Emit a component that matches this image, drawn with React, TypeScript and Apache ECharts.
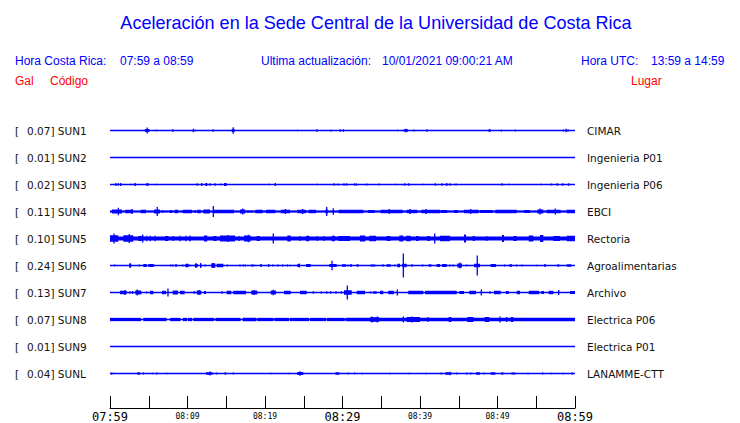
import React, { useEffect, useRef } from "react";
import * as echarts from "echarts";

// ---------- DATA ----------
const stations = ["SUN1", "SUN2", "SUN3", "SUN4", "SUN5", "SUN6", "SUN7", "SUN8", "SUN9", "SUNL"];
const places = ["CIMAR", "Ingenieria P01", "Ingenieria P06", "EBCI", "Rectoria", "Agroalimentarias", "Archivo", "Electrica P06", "Electrica P01", "LANAMME-CTT"];
const peakGal = ["0.07", "0.01", "0.02", "0.11", "0.10", "0.24", "0.13", "0.07", "0.01", "0.04"];
const timeLabels = ["07:59", "08:09", "08:19", "08:29", "08:39", "08:49", "08:59"];
const DURATION_MIN = 60;

// Bursts per station: [startMinute, endMinute, halfAmplitudeGal]
const sun1 = [[4.5,5.1,0.03],[4.8,4.8,0.06],[6.0,6.0,0.015],[8.1,8.1,0.025],[10.75,10.75,0.035],[10.75,11.1,0.015],[13.3,13.3,0.025],[15.7,16.1,0.03],[15.9,15.9,0.065],[24.2,24.2,0.015],[26.7,26.7,0.025],[28.5,28.5,0.02],[29.7,29.7,0.025],[30.1,30.1,0.025],[37.1,37.1,0.015],[37.9,38.45,0.025],[38.2,38.2,0.035],[39.2,39.2,0.02],[40.9,40.9,0.025],[48.85,49.1,0.03],[50.5,50.5,0.02],[52.3,52.3,0.02],[58.5,58.5,0.02],[58.85,58.85,0.035],[59.1,59.1,0.02]];
const sun2: number[][] = [];
const sun3 = [[0.77,0.77,0.03],[1.07,1.07,0.025],[1.38,1.38,0.03],[2.67,2.67,0.015],[3.1,3.35,0.025],[4.65,5.0,0.025],[6.03,6.03,0.015],[11.26,11.26,0.025],[11.83,11.83,0.03],[12.3,12.55,0.03],[12.9,12.9,0.025],[13.55,13.55,0.025],[14.28,14.28,0.02],[14.71,15.06,0.03],[20.55,20.55,0.015],[21.33,21.33,0.03],[26.75,26.75,0.015],[28.9,28.9,0.025],[29.42,29.42,0.02],[30.19,30.19,0.025],[30.54,30.54,0.025],[31.57,31.57,0.025],[31.83,31.83,0.02],[33.12,33.12,0.02],[34.75,34.75,0.02],[36.81,36.81,0.015],[38.03,38.03,0.025],[38.54,38.54,0.025],[40.35,40.35,0.015],[41.9,42.06,0.025],[42.84,42.84,0.025],[43.45,43.45,0.03],[43.87,43.87,0.025],[44.65,44.65,0.02],[50.58,50.58,0.025],[51.52,51.52,0.015],[55.65,55.65,0.015],[56.94,56.94,0.02],[57.72,57.72,0.025],[58.41,58.41,0.025],[59.19,59.19,0.025]];
const sun4 = [[0,60,0.018],[0.26,1.55,0.04],[1.07,1.07,0.075],[1.97,2.93,0.035],[2.85,2.85,0.05],[3.96,4.65,0.035],[5.68,6.45,0.04],[6.1,6.1,0.09],[6.8,6.8,0.03],[7.74,8.0,0.03],[8.35,8.77,0.035],[9.38,10.58,0.035],[11.0,11.0,0.03],[11.26,11.7,0.035],[12.04,12.9,0.04],[13.33,13.33,0.11],[13.33,16.0,0.035],[16.77,17.46,0.04],[17.12,17.12,0.06],[17.81,17.81,0.03],[18.23,18.23,0.025],[18.75,19.7,0.035],[20.13,21.33,0.035],[22.03,23.23,0.035],[22.62,22.62,0.05],[24.17,25.29,0.035],[24.86,24.86,0.05],[25.64,26.58,0.035],[27.8,28.1,0.04],[27.96,27.96,0.09],[28.81,28.81,0.065],[29.51,32.68,0.035],[33.29,34.15,0.03],[34.93,37.77,0.035],[36.04,36.04,0.05],[38.28,39.65,0.035],[38.71,38.71,0.05],[40.17,42.58,0.035],[40.77,40.77,0.05],[42.67,43.52,0.03],[44.39,44.9,0.03],[45.68,47.57,0.035],[46.54,46.54,0.05],[47.74,49.38,0.03],[49.72,52.48,0.035],[53.42,54.19,0.03],[55.14,55.91,0.04],[55.48,55.48,0.06],[56.35,58.15,0.035],[57.46,57.46,0.06],[58.93,60,0.035]];
const sun5 = [[0,60,0.04],[0,1.07,0.065],[0.52,0.52,0.1],[1.72,3.0,0.065],[2.49,2.49,0.09],[3.65,4.3,0.05],[4.22,4.22,0.08],[4.74,4.74,0.055],[5.2,5.2,0.055],[5.81,5.81,0.055],[7.1,7.52,0.05],[8.17,8.17,0.05],[9.03,9.03,0.055],[9.81,9.81,0.055],[10.32,10.32,0.06],[12.13,12.55,0.06],[13.33,13.77,0.05],[14.19,16.13,0.06],[15.2,15.2,0.07],[16.68,16.68,0.05],[17.29,18.15,0.06],[17.85,17.85,0.075],[18.93,19.35,0.05],[21.07,21.07,0.1],[22.88,23.32,0.06],[24.52,24.52,0.05],[25.29,25.72,0.055],[26.75,26.75,0.05],[27.61,27.61,0.05],[28.61,29.03,0.055],[29.46,30.97,0.05],[32.26,32.94,0.06],[33.46,34.32,0.055],[35.7,36.22,0.05],[37.33,37.85,0.06],[38.19,38.8,0.055],[39.48,39.83,0.05],[40.94,41.29,0.05],[41.9,41.9,0.1],[42.58,43.87,0.055],[45.68,45.94,0.08],[46.8,47.06,0.05],[48.61,48.61,0.05],[50.58,50.84,0.07],[52.04,52.48,0.05],[54.03,54.62,0.06],[55.48,55.91,0.07],[57.2,58.06,0.05],[58.93,60,0.055]];
const sun6 = [[0.6,0.6,0.02],[2.49,2.75,0.03],[2.6,2.6,0.05],[3.78,3.78,0.02],[4.3,4.74,0.03],[4.94,5.59,0.03],[5.68,5.68,0.02],[7.83,7.83,0.02],[8.09,8.09,0.02],[8.43,8.61,0.03],[9.38,9.38,0.02],[9.72,10.15,0.035],[10.32,10.32,0.02],[10.93,11.35,0.03],[11.1,11.1,0.05],[11.61,11.78,0.03],[11.7,11.7,0.05],[12.3,12.3,0.02],[13.07,13.59,0.045],[13.3,13.3,0.05],[13.77,14.62,0.035],[15.14,15.14,0.02],[16.77,16.77,0.02],[17.2,17.2,0.02],[17.46,17.46,0.02],[18.32,18.32,0.025],[18.58,18.58,0.02],[19.35,19.61,0.025],[20.48,20.48,0.03],[20.9,21.07,0.02],[21.68,21.68,0.02],[22.28,22.28,0.02],[22.88,22.88,0.02],[23.23,23.23,0.015],[24.17,24.52,0.03],[24.43,24.43,0.04],[25.29,25.9,0.03],[28.3,29.25,0.03],[28.65,28.65,0.095],[29.94,30.45,0.025],[30.71,30.71,0.02],[30.97,31.23,0.025],[31.83,32.09,0.025],[33.64,34.23,0.02],[35.1,35.35,0.02],[35.7,36.22,0.025],[36.74,36.74,0.02],[37.07,37.42,0.035],[37.68,38.28,0.035],[37.85,37.85,0.24],[38.88,39.06,0.025],[40.35,40.35,0.02],[41.12,41.46,0.025],[42.15,42.58,0.03],[42.84,43.45,0.03],[43.87,43.87,0.02],[44.3,44.3,0.02],[44.81,45.42,0.04],[45.16,45.16,0.06],[46.03,46.03,0.02],[46.97,47.74,0.035],[47.39,47.39,0.2],[49.12,49.81,0.03],[50.93,50.93,0.02],[51.52,51.87,0.025],[52.48,52.48,0.02],[53.16,53.16,0.02],[55.06,55.06,0.015],[56.0,56.26,0.025],[57.72,57.97,0.025],[58.93,59.52,0.025]];
const sun7 = [[1.29,2.15,0.035],[1.94,1.94,0.05],[2.58,2.58,0.025],[2.84,3.0,0.03],[3.26,4.04,0.04],[3.52,3.52,0.06],[4.74,4.74,0.02],[5.16,5.59,0.035],[6.71,7.23,0.035],[7.48,7.48,0.08],[8.09,8.77,0.04],[9.03,9.64,0.035],[10.75,11.0,0.025],[11.19,11.78,0.04],[11.5,11.5,0.05],[12.13,12.39,0.03],[14.45,14.45,0.025],[15.06,15.65,0.035],[15.91,17.55,0.035],[18.23,19.01,0.04],[18.58,18.58,0.05],[20.74,21.42,0.04],[21.07,21.07,0.055],[22.45,23.32,0.035],[24.52,25.38,0.035],[26.23,26.23,0.025],[27.26,27.26,0.02],[27.96,27.96,0.025],[28.48,28.48,0.025],[29.16,29.16,0.025],[29.85,29.85,0.025],[30.19,31.19,0.045],[30.62,30.62,0.14],[31.83,32.9,0.035],[33.64,33.64,0.02],[33.97,34.41,0.025],[34.84,35.26,0.035],[35.91,36.65,0.035],[37.07,37.07,0.06],[38.49,40.43,0.035],[40.65,44.74,0.035],[45.07,45.68,0.03],[46.36,47.23,0.035],[47.91,47.91,0.06],[49.03,49.03,0.025],[49.55,50.41,0.035],[51.1,51.45,0.03],[52.48,52.9,0.035],[54.03,55.39,0.035],[55.65,56.0,0.03],[56.6,57.2,0.035],[57.9,57.9,0.05],[59.35,60,0.03]];
const sun8 = [[0,4.0,0.033],[4.3,7.3,0.033],[7.75,9.1,0.033],[9.4,9.95,0.033],[10.05,10.6,0.033],[10.75,13.45,0.033],[13.6,16.85,0.033],[17.12,18.9,0.033],[19.0,21.1,0.033],[21.2,23.1,0.033],[23.2,25.7,0.033],[25.8,27.9,0.033],[28.0,30.3,0.033],[30.4,60,0.033],[33.55,34.75,0.045],[33.81,33.81,0.06],[34.49,34.49,0.06],[37.85,37.85,0.06],[38.28,40.0,0.05],[39.0,39.0,0.06],[41.03,41.03,0.05],[43.7,44.04,0.05],[46.1,46.88,0.05],[48.35,48.94,0.05],[50.32,50.32,0.06],[51.19,51.19,0.05],[51.7,52.04,0.05]];
const sun9: number[][] = [];
const sunl = [[0.17,0.17,0.02],[0.43,0.43,0.015],[3.52,3.87,0.025],[4.3,4.3,0.02],[5.51,5.51,0.015],[6.03,6.03,0.02],[7.32,7.32,0.015],[12.39,13.25,0.025],[12.9,12.9,0.04],[13.77,13.77,0.02],[14.88,14.88,0.025],[15.91,15.91,0.02],[20.74,20.74,0.015],[23.14,23.14,0.015],[24.17,24.94,0.03],[24.52,24.52,0.045],[29.07,29.59,0.025],[30.75,30.75,0.02],[31.57,31.57,0.02],[32.52,32.52,0.015],[36.13,36.13,0.015],[38.62,38.62,0.015],[40.77,40.77,0.015],[42.75,42.75,0.02],[43.26,44.04,0.025],[43.87,43.87,0.035],[44.74,44.74,0.02],[46.03,46.03,0.02],[46.54,46.54,0.02],[47.23,47.74,0.025],[48.26,48.26,0.02],[49.12,49.72,0.025],[50.49,50.75,0.025],[51.78,52.3,0.02],[53.94,53.94,0.015],[55.83,55.83,0.02],[56.94,56.94,0.015],[58.49,58.49,0.015],[59.52,59.78,0.02]];

const bursts = [sun1, sun2, sun3, sun4, sun5, sun6, sun7, sun8, sun9, sunl];

// ---------- STYLE ----------
const BLUE = "#0000ff";
const RED = "#ff0000";
const ROW = 0.54; // vertical spacing between traces in gal units

export default function App() {
  const ref = useRef<HTMLDivElement>(null);

  useEffect(() => {
    if (!ref.current) return;
    const chart = echarts.init(ref.current, null, { renderer: "svg" });

    const items: number[][] = [];
    bursts.forEach((list, row) => {
      items.push([0, DURATION_MIN, 0, row]); // baseline
      list.forEach((b) => items.push([b[0], b[1], b[2], row]));
    });

    const headerFont = "Liberation Sans, Arial, sans-serif";
    const txt = (x: number, y: number, text: string, fill: string, extra: any = {}) => ({
      type: "text",
      x,
      y,
      style: { text, fill, font: `12px ${headerFont}`, textVerticalAlign: "middle", ...extra },
    });

    const option: any = {
      animation: false,
      backgroundColor: "#fff",
      grid: [
        { left: 110, right: 165, top: 117, height: 270 },
        { left: 110, right: 165, top: 397, height: 12 },
      ],
      xAxis: [
        { gridIndex: 0, type: "value", min: 0, max: DURATION_MIN, show: false },
        {
          gridIndex: 1,
          type: "value",
          min: 0,
          max: DURATION_MIN,
          interval: 5,
          position: "bottom",
          axisLine: { show: true, lineStyle: { color: "#000", width: 1 } },
          axisTick: { show: true, inside: true, length: 12, lineStyle: { color: "#000", width: 1 } },
          splitLine: { show: false },
          axisLabel: {
            margin: 2,
            showMinLabel: true,
            showMaxLabel: true,
            formatter: (v: number) => {
              if (v % 10 !== 0) return "";
              const i = v / 10;
              const lab = timeLabels[i];
              return i % 3 === 0 ? `{big|${lab}}` : `{small|${lab}}`;
            },
            rich: {
              big: { fontSize: 12, fontFamily: "DejaVu Sans Mono", color: "#000", lineHeight: 14 },
              small: { fontSize: 8, fontFamily: "DejaVu Sans Mono", color: "#000", lineHeight: 12 },
            },
          },
        },
      ],
      yAxis: [
        { gridIndex: 0, type: "value", min: -9 * ROW - ROW / 2, max: ROW / 2, show: false, position: "left" },
        {
          gridIndex: 0,
          type: "category",
          position: "left",
          inverse: true,
          data: stations,
          axisLine: { show: false },
          axisTick: { show: false },
          splitLine: { show: false },
          axisLabel: {
            align: "left",
            margin: 95,
            formatter: (s: string, i: number) => `{a|[}{v|${peakGal[i]}] ${s}}`,
            rich: {
              a: { width: 12, fontSize: 10.5, fontFamily: "DejaVu Sans", color: "#111" },
              v: { fontSize: 10.5, fontFamily: "DejaVu Sans", color: "#111" },
            },
          },
        },
        {
          gridIndex: 0,
          type: "category",
          position: "right",
          inverse: true,
          data: places,
          axisLine: { show: false },
          axisTick: { show: false },
          splitLine: { show: false },
          axisLabel: { margin: 12, fontSize: 10.5, fontFamily: "DejaVu Sans", color: "#111" },
        },
        { gridIndex: 1, type: "value", min: 0, max: 1, show: false },
      ],
      graphic: [
        {
          type: "text",
          x: 376,
          y: 22,
          scaleX: 0.95,
          style: {
            text: "Aceleración en la Sede Central de la Universidad de Costa Rica",
            fill: BLUE,
            font: `19px ${headerFont}`,
            textAlign: "center",
            textVerticalAlign: "middle",
          },
        },
        txt(15, 61, "Hora Costa Rica:", BLUE),
        txt(120, 61, "07:59 a 08:59", BLUE),
        txt(261, 61, "Ultima actualización:", BLUE),
        txt(382, 61, "10/01/2021 09:00:21 AM", BLUE),
        txt(581, 61, "Hora UTC:", BLUE),
        txt(651, 61, "13:59 a 14:59", BLUE),
        txt(15, 81, "Gal", RED),
        txt(50, 81, "Código", RED),
        txt(631, 81, "Lugar", RED),
      ],
      series: [
        {
          type: "custom",
          xAxisIndex: 0,
          yAxisIndex: 0,
          clip: false,
          data: items,
          renderItem: (_p: any, api: any) => {
            const t0 = api.value(0);
            const t1 = api.value(1);
            const amp = api.value(2);
            const row = api.value(3);
            const base = -row * ROW;
            const p0 = api.coord([t0, base + amp]);
            const p1 = api.coord([t1, base - amp]);
            let x = p0[0];
            let y = p0[1];
            let w = p1[0] - p0[0];
            let h = p1[1] - p0[1];
            const minW = 1.3;
            const minH = 1.3;
            if (w < minW) {
              x -= (minW - w) / 2;
              w = minW;
            }
            if (h < minH) {
              y -= (minH - h) / 2;
              h = minH;
            }
            return { type: "rect", shape: { x, y, width: w, height: h }, style: { fill: BLUE } };
          },
        },
      ],
    };

    chart.setOption(option);
    return () => chart.dispose();
  }, []);

  return (
    <div
      ref={ref}
      style={{ position: "fixed", left: 0, top: 0, width: 740, height: 423, background: "#fff" }}
    />
  );
}
